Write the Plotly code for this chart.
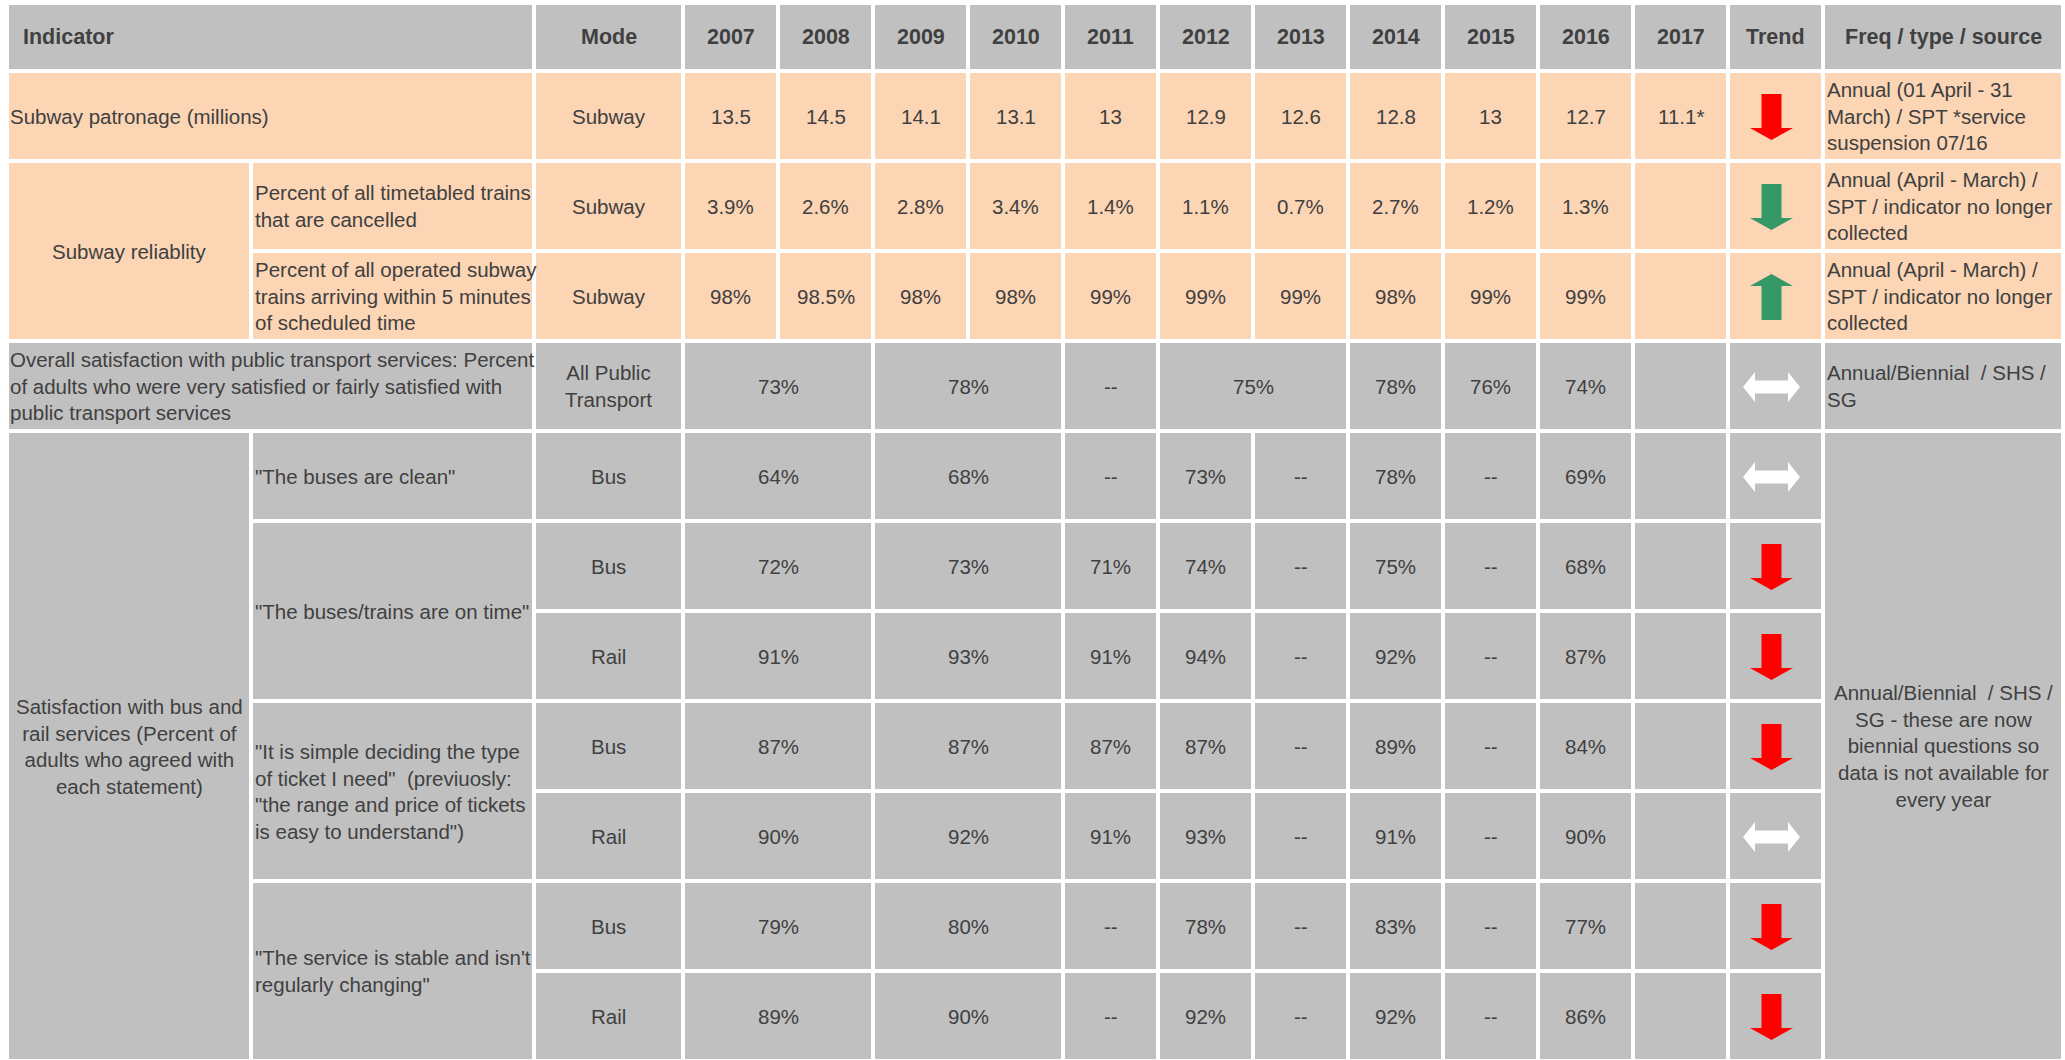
import plotly.graph_objects as go

# ---------------- data ----------------
header_labels = ["Indicator", "Mode", "2007", "2008", "2009", "2010", "2011", "2012",
                 "2013", "2014", "2015", "2016", "2017", "Trend", "Freq / type / source"]

# Subway rows (one value per year 2007..2017)
patronage_label = "Subway patronage (millions)"
patronage = ["13.5", "14.5", "14.1", "13.1", "13", "12.9", "12.6", "12.8", "13", "12.7", "11.1*"]
patronage_freq = "Annual (01 April - 31<br>March) / SPT *service<br>suspension 07/16"

reliability_label = "Subway reliablity"
cancelled_label = "Percent of all timetabled trains<br>that are cancelled"
cancelled = ["3.9%", "2.6%", "2.8%", "3.4%", "1.4%", "1.1%", "0.7%", "2.7%", "1.2%", "1.3%", ""]
ontime_label = "Percent of all operated subway<br>trains arriving within 5 minutes<br>of scheduled time"
ontime = ["98%", "98.5%", "98%", "98%", "99%", "99%", "99%", "98%", "99%", "99%", ""]
reliability_freq = "Annual (April - March) /<br>SPT / indicator no longer<br>collected"

# Overall satisfaction (year groups: 07-08, 09-10, 11, 12-13, 14, 15, 16, 17)
overall_label = ("Overall satisfaction with public transport services: Percent<br>"
                 "of adults who were very satisfied or fairly satisfied with<br>"
                 "public transport services")
overall_mode = "All Public<br>Transport"
overall_groups = [[0, 1], [2, 3], [4], [5, 6], [7], [8], [9], [10]]
overall = ["73%", "78%", "--", "75%", "78%", "76%", "74%", ""]
overall_freq = "Annual/Biennial  / SHS /<br>SG"

# Bus / rail satisfaction (year groups: 07-08, 09-10, 11, 12, 13, 14, 15, 16, 17)
sat_label = "Satisfaction with bus and<br>rail services (Percent of<br>adults who agreed with<br>each statement)"
sat_groups = [[0, 1], [2, 3], [4], [5], [6], [7], [8], [9], [10]]
statements = ['"The buses are clean"',
              '"The buses/trains are on time"',
              '"It is simple deciding the type<br>of ticket I need"  (previuosly:<br>'
              '"the range and price of tickets<br>is easy to understand")',
              '"The service is stable and isn\'t<br>regularly changing"']
statement_rows = [1, 2, 2, 2]  # number of mode rows per statement
sat_modes = ["Bus", "Bus", "Rail", "Bus", "Rail", "Bus", "Rail"]
clean_bus = ["64%", "68%", "--", "73%", "--", "78%", "--", "69%", ""]
ontime_bus = ["72%", "73%", "71%", "74%", "--", "75%", "--", "68%", ""]
ontime_rail = ["91%", "93%", "91%", "94%", "--", "92%", "--", "87%", ""]
ticket_bus = ["87%", "87%", "87%", "87%", "--", "89%", "--", "84%", ""]
ticket_rail = ["90%", "92%", "91%", "93%", "--", "91%", "--", "90%", ""]
stable_bus = ["79%", "80%", "--", "78%", "--", "83%", "--", "77%", ""]
stable_rail = ["89%", "90%", "--", "92%", "--", "92%", "--", "86%", ""]
sat_values = [clean_bus, ontime_bus, ontime_rail, ticket_bus, ticket_rail, stable_bus, stable_rail]
sat_freq = ("Annual/Biennial  / SHS /<br>SG - these are now<br>biennial questions so<br>"
            "data is not available for<br>every year")

# trend per body row (rows 1..11)
trends = ["down_red", "down_green", "up_green", "both", "both",
          "down_red", "down_red", "down_red", "both", "down_red", "down_red"]

# ---------------- layout / style ----------------
W, H = 2065, 1060
COL_EDGES = [7, 251, 534, 683, 778, 873, 968, 1063, 1158, 1253, 1348, 1443,
             1538, 1633, 1728, 1823, 2063]
ROW_EDGES = [3, 71, 161, 251, 341, 431, 521, 611, 701, 791, 881, 971, 1061]
HALF_GAP = 2
GREY = "#C0C0C0"
PEACH = "#FCD5B4"
TXT = "#404040"
FONT = "Liberation Sans, Arial, sans-serif"
FS = 20.5
YEAR0 = 3
TREND_C = 14
FREQ_C = 15

cells = []


def cell(r0, r1, c0, c1, text, fill, align="center", bold=False, pad=0):
    cells.append(dict(r0=r0, r1=r1, c0=c0, c1=c1, text=text, fill=fill,
                      align=align, bold=bold, pad=pad))


# header
cell(0, 0, 0, 1, header_labels[0], GREY, "left", True, pad=12)
for i, lab in enumerate(header_labels[1:], start=2):
    cell(0, 0, i, i, lab, GREY, "center", True)

# row 1: patronage
cell(1, 1, 0, 1, patronage_label, PEACH, "left", pad=-1)
cell(1, 1, 2, 2, "Subway", PEACH)
for i, v in enumerate(patronage):
    cell(1, 1, YEAR0 + i, YEAR0 + i, v, PEACH)
cell(1, 1, TREND_C, TREND_C, "", PEACH)
cell(1, 1, FREQ_C, FREQ_C, patronage_freq, PEACH, "left")

# rows 2-3: reliability
cell(2, 3, 0, 0, reliability_label, PEACH)
for r, (lab, vals) in enumerate([(cancelled_label, cancelled), (ontime_label, ontime)], start=2):
    cell(r, r, 1, 1, lab, PEACH, "left")
    cell(r, r, 2, 2, "Subway", PEACH)
    for i, v in enumerate(vals):
        cell(r, r, YEAR0 + i, YEAR0 + i, v, PEACH)
    cell(r, r, TREND_C, TREND_C, "", PEACH)
    cell(r, r, FREQ_C, FREQ_C, reliability_freq, PEACH, "left")

# row 4: overall
cell(4, 4, 0, 1, overall_label, GREY, "left", pad=-1)
cell(4, 4, 2, 2, overall_mode, GREY)
for g, v in zip(overall_groups, overall):
    cell(4, 4, YEAR0 + g[0], YEAR0 + g[-1], v, GREY)
cell(4, 4, TREND_C, TREND_C, "", GREY)
cell(4, 4, FREQ_C, FREQ_C, overall_freq, GREY, "left")

# rows 5-11: satisfaction
cell(5, 11, 0, 0, sat_label, GREY)
r = 5
for st, n in zip(statements, statement_rows):
    cell(r, r + n - 1, 1, 1, st, GREY, "left")
    r += n
for k, (mode, vals) in enumerate(zip(sat_modes, sat_values)):
    rr = 5 + k
    cell(rr, rr, 2, 2, mode, GREY)
    for g, v in zip(sat_groups, vals):
        cell(rr, rr, YEAR0 + g[0], YEAR0 + g[-1], v, GREY)
    cell(rr, rr, TREND_C, TREND_C, "", GREY)
cell(5, 11, FREQ_C, FREQ_C, sat_freq, GREY)

shapes = []
annotations = []
for c in cells:
    x0 = COL_EDGES[c["c0"]] + HALF_GAP
    x1 = COL_EDGES[c["c1"] + 1] - HALF_GAP
    y0 = ROW_EDGES[c["r0"]] + HALF_GAP
    y1 = ROW_EDGES[c["r1"] + 1] - HALF_GAP
    shapes.append(dict(type="rect", xref="x", yref="y", x0=x0, x1=x1, y0=y0, y1=y1,
                       fillcolor=c["fill"], line=dict(width=0), layer="below"))
    if c["text"]:
        txt = f"<b>{c['text']}</b>" if c["bold"] else c["text"]
        if c["align"] == "left":
            ax, xa = x0 + c["pad"], "left"
        else:
            ax, xa = (x0 + x1) / 2, "center"
        annotations.append(dict(x=ax, y=(y0 + y1) / 2, xref="x", yref="y", text=txt,
                                showarrow=False, xanchor=xa, yanchor="middle",
                                align=c["align"],
                                font=dict(family=FONT, size=FS + (1 if c["bold"] else 0),
                                          color=TXT)))

# trend arrows
ARROW_COLORS = {"down_red": "#FF0000", "down_green": "#349966", "up_green": "#349966",
                "both": "#FFFFFF"}
for i, kind in enumerate(trends):
    rr = i + 1
    cx = (COL_EDGES[TREND_C] + COL_EDGES[TREND_C + 1]) / 2 - 4
    cy = (ROW_EDGES[rr] + ROW_EDGES[rr + 1]) / 2 + 1
    if kind in ("down_red", "down_green", "up_green"):
        s = 1 if kind.startswith("down") else -1
        hw, hh, th, hl = 10, 21.5, 23, 12
        pts = [(cx - hw, cy - s * th), (cx + hw, cy - s * th), (cx + hw, cy + s * (th - hl)),
               (cx + hh, cy + s * (th - hl)), (cx, cy + s * th), (cx - hh, cy + s * (th - hl)),
               (cx - hw, cy + s * (th - hl))]
    else:
        hl, hx, sh, hh = 28.5, 16.5, 6.5, 15
        pts = [(cx - hl, cy), (cx - hx, cy - hh), (cx - hx, cy - sh), (cx + hx, cy - sh),
               (cx + hx, cy - hh), (cx + hl, cy), (cx + hx, cy + hh), (cx + hx, cy + sh),
               (cx - hx, cy + sh), (cx - hx, cy + hh)]
    path = "M " + " L ".join(f"{x},{y}" for x, y in pts) + " Z"
    shapes.append(dict(type="path", xref="x", yref="y", path=path,
                       fillcolor=ARROW_COLORS[kind], line=dict(width=0), layer="above"))

fig = go.Figure()
fig.update_layout(
    width=W, height=H,
    margin=dict(l=0, r=0, t=0, b=0),
    paper_bgcolor="white", plot_bgcolor="white",
    xaxis=dict(range=[0, W], visible=False, fixedrange=True),
    yaxis=dict(range=[H, 0], visible=False, fixedrange=True),
    shapes=shapes, annotations=annotations, showlegend=False,
)
fig.write_html("out.html", config={"displayModeBar": False},
               post_script="document.body.style.margin='0';document.body.style.overflow='hidden';")
